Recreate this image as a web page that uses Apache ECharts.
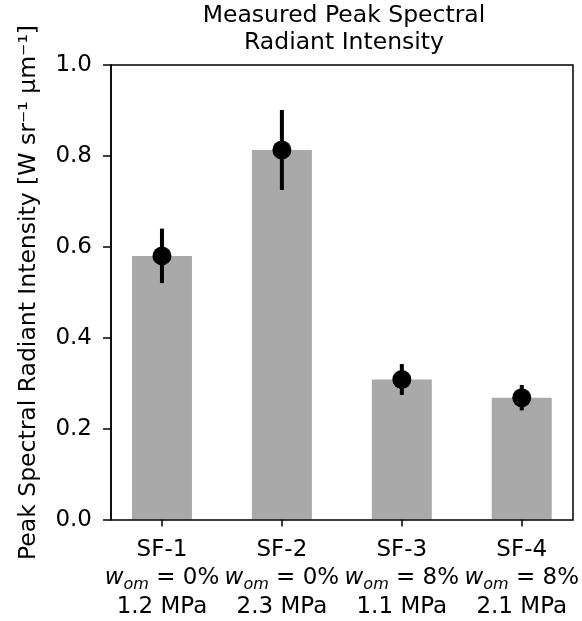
<!DOCTYPE html>
<html><head><meta charset="utf-8">
<script src="https://cdn.jsdelivr.net/npm/echarts@6/dist/echarts.min.js"></script>
<style>html,body{margin:0;padding:0;background:#fff}#c{width:582px;height:621px}</style>
</head><body><div id="c"></div>
<script>
const categories = ['SF-1', 'SF-2', 'SF-3', 'SF-4'];
const womLabels = ['0%', '0%', '8%', '8%'];
const pressures = ['1.2 MPa', '2.3 MPa', '1.1 MPa', '2.1 MPa'];
const values = [0.580, 0.813, 0.308, 0.268];
const errors = [0.060, 0.088, 0.034, 0.028];

const FONT = 'DejaVu Sans';
const FS = 23;
const chart = echarts.init(document.getElementById('c'), null, {renderer: 'canvas'});
const errData = values.map((v, i) => [i, v - errors[i], v + errors[i]]);

chart.setOption({
  animation: false,
  backgroundColor: '#fff',
  textStyle: {fontFamily: FONT},
  title: {
    text: 'Measured Peak Spectral\nRadiant Intensity',
    left: 344, top: 2, padding: 0, textAlign: 'center',
    textStyle: {fontFamily: FONT, fontSize: 23.5, fontWeight: 'normal', color: '#000', lineHeight: 27.5}
  },
  grid: [
    {left: 111, right: 9, top: 65, bottom: 101, show: true, borderColor: '#000', borderWidth: 1.5, backgroundColor: 'transparent', z: 10},
    {left: 102, right: 0, top: 65, bottom: 101}
  ],
  xAxis: [
    {gridIndex: 0, type: 'value', min: 0, max: 1, show: false},
    {gridIndex: 1, type: 'category', data: categories, boundaryGap: true,
     axisLine: {show: false},
     axisTick: {show: true, alignWithLabel: true, length: 7, lineStyle: {color: '#000', width: 1.5}},
     axisLabel: {
       interval: 0, hideOverlap: false,
       color: '#000', fontSize: FS, fontFamily: FONT, lineHeight: 28.5, margin: 16,
       formatter: (v, i) => `${v}\n{it|w}{sub|om}{n| = ${womLabels[i]}}\n${pressures[i]}`,
       rich: {
         it: {fontStyle: 'italic', fontSize: FS, fontFamily: FONT, color: '#000', lineHeight: 28.5},
         sub: {fontStyle: 'italic', fontSize: 16, fontFamily: FONT, color: '#000', lineHeight: 28.5, verticalAlign: 'bottom', padding: [7, 0, 0, 0]},
         n: {fontSize: FS, fontFamily: FONT, color: '#000', lineHeight: 28.5}
       }
     }}
  ],
  yAxis: [
    {gridIndex: 0, type: 'value', min: 0, max: 1, interval: 0.2,
     axisLine: {show: true, lineStyle: {color: '#000', width: 1.5}},
     axisTick: {show: true, length: 8, lineStyle: {color: '#000', width: 1.5}},
     axisLabel: {color: '#000', fontSize: FS, fontFamily: FONT, margin: 19, formatter: v => v.toFixed(1)},
     splitLine: {show: false},
     name: 'Peak Spectral Radiant Intensity [W sr⁻¹ μm⁻¹]',
     nameLocation: 'middle', nameRotate: 90, nameGap: 70,
     nameTextStyle: {color: '#000', fontSize: 23.5, fontFamily: FONT}
    },
    {gridIndex: 1, type: 'value', min: 0, max: 1, show: false}
  ],
  series: [
    {type: 'bar', xAxisIndex: 1, yAxisIndex: 1, data: values, barWidth: 60,
     itemStyle: {color: '#a9a9a9'}, z: 2},
    {type: 'custom', xAxisIndex: 1, yAxisIndex: 1, data: errData, z: 3,
     renderItem: (params, api) => {
       const lo = api.coord([api.value(0), api.value(1)]);
       const hi = api.coord([api.value(0), api.value(2)]);
       return {type: 'line', shape: {x1: lo[0], y1: lo[1], x2: hi[0], y2: hi[1]},
               style: {stroke: '#000', lineWidth: 4}};
     }},
    {type: 'scatter', xAxisIndex: 1, yAxisIndex: 1, data: values, symbol: 'circle', symbolSize: 19,
     itemStyle: {color: '#000', opacity: 1}, z: 4}
  ]
});
</script></body></html>
